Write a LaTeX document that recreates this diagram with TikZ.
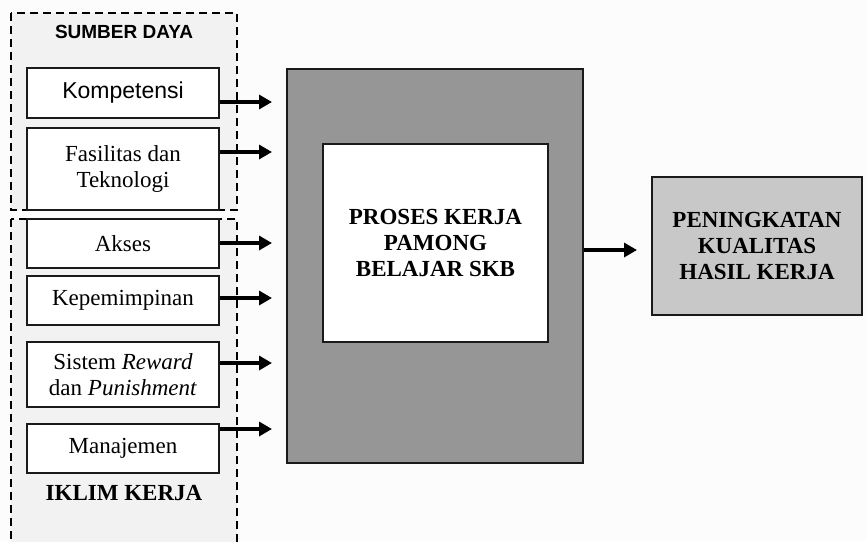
\documentclass[tikz,border=0pt]{standalone}
\usepackage{fontspec}
\setmainfont{Liberation Serif}
\newfontfamily\arialfont{Liberation Sans}
\usetikzlibrary{arrows.meta,calc}
\definecolor{bgc}{HTML}{FCFCFC}
\definecolor{grpc}{HTML}{F2F2F2}
\definecolor{procc}{HTML}{969696}
\definecolor{resc}{HTML}{C8C8C8}
\definecolor{edgec}{HTML}{1A1A1A}
\tikzset{
  grp/.style={draw=black, line width=2.6pt, dash pattern=on 8pt off 5pt, fill=grpc},
  itembox/.style={draw=edgec, line width=1.6pt, fill=white, minimum width=192pt, inner sep=0pt, align=center, font=\fontsize{23}{26}\selectfont},
  arr/.style={line width=4pt, -{Triangle[length=13pt,width=14pt]}},
  bigbox/.style={draw=edgec, line width=1.6pt, inner sep=0pt, align=center, font=\fontsize{23}{26}\selectfont\bfseries}
}
\begin{document}
\begin{tikzpicture}[x=1pt,y=-1pt]
\useasboundingbox[fill=bgc] (0,0) rectangle (866,541);
% dashed groups
\draw[grp] (11,13) rectangle (237,210);
\draw[grp] (11,219) rectangle (237,547);
\node[font=\arialfont\fontsize{19}{22}\selectfont\bfseries] (sdlabel) at (124,32) {SUMBER DAYA};
\node[font=\fontsize{23}{26}\selectfont\bfseries] (iklabel) at (124,493) {IKLIM KERJA};
% items
\node[itembox, minimum height=50pt] (komp) at (123,93) {\arialfont Kompetensi};
\node[itembox, minimum height=82pt] (fas) at (123,169) {Fasilitas dan\\Teknologi};
\node[itembox, minimum height=49pt] (akses) at (123,243.5) {Akses};
\node[itembox, minimum height=49pt] (kep) at (123,300.5) {Kepemimpinan};
\node[itembox, minimum height=65pt] (sis) at (123,374.5) {Sistem \textit{Reward}\\dan \textit{Punishment}};
\node[itembox, minimum height=49pt] (man) at (123,448.5) {Manajemen};
% process
\node[bigbox, fill=procc, minimum width=296pt, minimum height=394pt] (proc) at (435,266) {};
\node[bigbox, fill=white, minimum width=225pt, minimum height=198pt] (inner) at (435.5,243) {PROSES KERJA\\PAMONG\\BELAJAR SKB};
\node[bigbox, fill=resc, minimum width=210pt, minimum height=138pt] (res) at (757,246) {PENINGKATAN\\KUALITAS\\HASIL KERJA};
% arrow endpoints
\coordinate (e1) at (272,102);
\coordinate (e2) at (272,152);
\coordinate (e3) at (272,243);
\coordinate (e4) at (272,298);
\coordinate (e5) at (272,363);
\coordinate (e6) at (272,429);
\coordinate (e7) at (637,250);
\draw[arr] (komp.east |- e1) -- (e1);
\draw[arr] (fas.east |- e2) -- (e2);
\draw[arr] (akses.east |- e3) -- (e3);
\draw[arr] (kep.east |- e4) -- (e4);
\draw[arr] (sis.east |- e5) -- (e5);
\draw[arr] (man.east |- e6) -- (e6);
\draw[arr] (proc.east |- e7) -- (e7);
\end{tikzpicture}
\end{document}
